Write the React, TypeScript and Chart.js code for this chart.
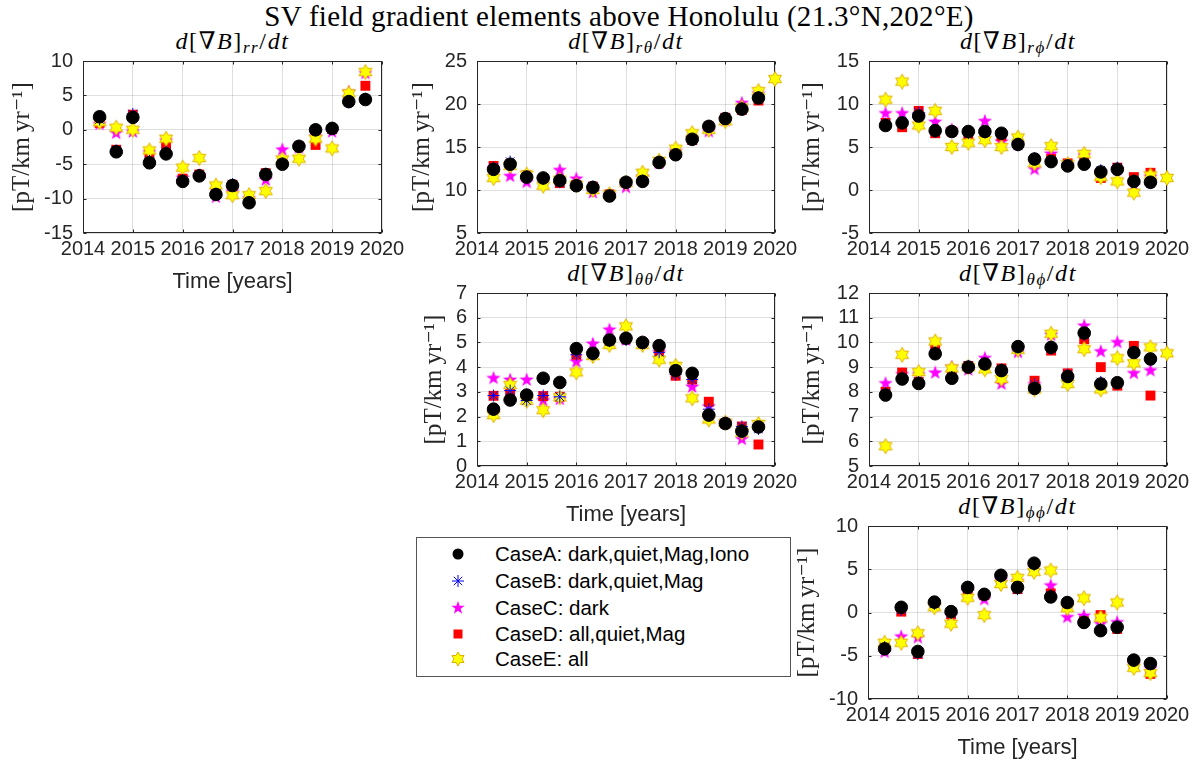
import React, { useEffect, useRef } from 'react';
import { Chart, registerables } from 'chart.js';
Chart.register(...registerables);

// ---------------- data ----------------
const times = [2014.333, 2014.667, 2015.0, 2015.333, 2015.667, 2016.0, 2016.333, 2016.667, 2017.0,
  2017.333, 2017.667, 2018.0, 2018.333, 2018.667, 2019.0, 2019.333, 2019.667, 2020.0];
const yearTicks = [2014, 2015, 2016, 2017, 2018, 2019, 2020];

const rrA = [1.9, -3.2, 1.8, -4.8, -3.5, -7.5, -6.7, -9.4, -8.1, -10.6, -6.5, -5.0, -2.4, 0.0, 0.2, 4.1, 4.4];
const rrB = [1.5, -3.0, 2.3, -4.5, -3.2, -7.3, -6.6, -9.3, -7.9, -10.5, -6.4, -4.9, -2.4, -0.1, 0.1, 4.0, 4.5];
const rrC = [0.8, -0.5, -0.3, -3.3, -1.6, -7.0, -6.6, -9.8, -9.0, -10.0, -7.3, -2.9, -2.6, -1.0, -0.3, 5.5, 8.2];
const rrD = [1.0, -2.9, 2.2, -3.6, -2.4, -7.1, -6.5, -9.2, -8.0, -10.3, -6.3, -4.6, -2.4, -2.2, 0.1, 4.2, 6.4];
const rrE = [1.1, 0.3, 0.0, -3.0, -1.3, -5.5, -4.1, -8.1, -9.5, -9.5, -8.9, -4.3, -4.2, -1.3, -2.7, 5.3, 8.4];

const rtA = [12.4, 13.0, 11.5, 11.4, 11.1, 10.5, 10.3, 9.3, 10.9, 11.0, 13.2, 14.1, 15.9, 17.4, 18.3, 19.4, 20.7];
const rtB = [12.6, 13.3, 11.6, 11.3, 10.9, 10.6, 10.4, 9.4, 10.8, 11.1, 13.3, 14.1, 15.8, 17.3, 18.4, 19.5, 20.8];
const rtC = [12.5, 11.6, 10.9, 11.2, 12.3, 11.3, 9.7, 9.4, 10.3, 11.5, 13.1, 14.5, 16.0, 16.8, 18.1, 20.1, 21.2];
const rtD = [12.8, 13.0, 11.7, 11.3, 10.8, 10.6, 10.4, 9.5, 10.9, 11.1, 13.2, 14.2, 15.8, 17.4, 18.4, 19.3, 20.4];
const rtE = [11.4, 12.8, 11.8, 10.5, 11.2, 10.6, 10.0, 9.5, 10.8, 12.0, 13.4, 14.8, 16.6, 17.0, 18.0, 19.6, 21.5, 22.9];

const rpA = [7.5, 7.8, 8.6, 6.9, 6.8, 6.8, 6.8, 6.6, 5.3, 3.6, 3.3, 2.8, 3.0, 2.1, 2.4, 1.0, 0.9];
const rpB = [7.7, 7.9, 9.0, 6.8, 6.8, 6.6, 6.7, 6.5, 5.2, 3.7, 3.4, 2.9, 3.1, 2.3, 2.6, 1.1, 0.8];
const rpC = [8.9, 8.9, 8.7, 7.9, 7.0, 6.5, 8.0, 5.6, 5.3, 2.4, 4.2, 2.9, 4.0, 2.0, 2.4, 0.5, 1.5];
const rpD = [7.8, 7.3, 9.2, 6.6, 6.8, 6.4, 6.6, 6.3, 5.4, 3.5, 3.6, 3.1, 3.2, 1.4, 2.6, 1.5, 2.0];
const rpE = [10.5, 12.6, 7.5, 9.2, 5.0, 5.5, 5.8, 5.0, 6.1, 3.1, 5.1, 3.0, 4.2, 1.5, 1.0, -0.3, 1.7, 1.4];

const ttA = [2.3, 2.67, 2.87, 3.55, 3.38, 4.75, 4.56, 5.1, 5.17, 5.0, 4.87, 3.86, 3.75, 2.06, 1.72, 1.41, 1.58];
const ttB = [2.85, 3.05, 2.65, 2.85, 2.8, 4.5, 4.5, 5.05, 5.1, 4.95, 4.6, 3.7, 3.5, 2.3, 1.75, 1.6, 1.5];
const ttC = [3.55, 3.48, 3.48, 2.65, 2.7, 4.22, 4.94, 5.51, 5.1, 5.0, 4.6, 3.75, 3.2, 2.4, 1.75, 1.08, 1.6];
const ttD = [2.84, 2.94, 2.7, 2.83, 2.8, 4.5, 4.55, 5.05, 5.15, 4.95, 4.6, 3.65, 3.5, 2.6, 1.72, 1.6, 0.87];
const ttE = [2.06, 3.28, 2.64, 2.26, 2.78, 3.79, 4.45, 4.9, 5.65, 4.9, 4.3, 4.05, 2.74, 1.88, 1.75, 1.35, 1.7];

const tpA = [7.87, 8.52, 8.34, 9.54, 8.55, 9.0, 9.13, 8.86, 9.83, 8.14, 9.8, 8.62, 10.38, 8.32, 8.37, 9.59, 9.33];
const tpB = [7.95, 8.6, 8.4, 9.6, 8.6, 9.05, 9.1, 8.9, 9.8, 8.3, 9.75, 8.7, 10.3, 8.4, 8.35, 9.6, 9.35];
const tpC = [8.34, 8.7, 8.7, 8.77, 9.0, 8.89, 9.36, 8.32, 9.6, 8.3, 10.3, 8.6, 10.67, 9.63, 10.0, 8.75, 8.86];
const tpD = [8.0, 8.78, 8.4, 9.7, 8.65, 9.05, 9.1, 8.95, 9.8, 8.45, 9.67, 8.75, 10.13, 9.0, 8.25, 9.86, 7.85];
const tpE = [5.8, 9.5, 8.8, 10.04, 8.95, 9.0, 8.91, 8.52, 9.7, 8.1, 10.35, 8.32, 9.73, 8.1, 9.36, 9.16, 9.8, 9.56];

const ppA = [-4.2, 0.6, -4.5, 1.2, 0.1, 2.9, 2.1, 4.3, 2.9, 5.7, 1.8, 1.15, -1.15, -2.1, -1.7, -5.5, -5.9];
const ppB = [-4.0, 0.3, -4.8, 1.0, -0.1, 2.8, 2.0, 4.1, 2.7, 5.5, 2.0, 1.1, -1.0, -1.9, -1.6, -5.6, -6.0];
const ppC = [-4.6, -2.8, -2.9, 0.8, -0.4, 2.4, 1.5, 3.7, 3.6, 5.2, 3.1, -0.55, -0.4, -1.35, -1.15, -6.0, -6.5];
const ppD = [-4.0, 0.1, -4.8, 1.0, -0.2, 2.6, 2.0, 3.9, 2.7, 5.3, 2.2, 1.0, -1.0, -0.3, -1.9, -6.0, -7.1];
const ppE = [-3.5, -3.5, -2.4, 0.6, -1.3, 1.7, -0.3, 3.3, 4.0, 4.7, 4.85, 0.5, 1.65, -0.6, 1.15, -6.4, -7.0];

const rrTicks = [-15, -10, -5, 0, 5, 10];
const rtTicks = [5, 10, 15, 20, 25];
const rpTicks = [-5, 0, 5, 10, 15];
const ttTicks = [0, 1, 2, 3, 4, 5, 6, 7];
const tpTicks = [5, 6, 7, 8, 9, 10, 11, 12];
const ppTicks = [-10, -5, 0, 5, 10];

const caseLabels = [
  'CaseA: dark,quiet,Mag,Iono',
  'CaseB: dark,quiet,Mag',
  'CaseC: dark',
  'CaseD: all,quiet,Mag',
  'CaseE: all',
];
const mainTitle = 'SV field gradient elements above Honolulu (21.3°N,202°E)';
const yLabel = '[pT/km\u2009yr\u207B\u00B9]';
const xLabel = 'Time [years]';

// ---------------- styling / layout ----------------
const SANS = '"Liberation Sans", Arial, Helvetica, sans-serif';
const SERIF = '"Liberation Serif", "DejaVu Serif", "Times New Roman", serif';
const AXC = '#262626';
const GRID = 'rgba(38,38,38,0.15)';
const YW = 82;
const PADT = 24;
const PADR = 32;
const XH = 66;
const TICK_FS = 20;
const YLAB_FS = 25;

type PanelCfg = {
  key: string; sub: string; L: number; T: number; R: number; B: number;
  ticks: number[]; xTitle: boolean; yOff: number;
  A: number[]; Bs: number[]; C: number[]; D: number[]; E: number[];
};

const panels: PanelCfg[] = [
  { key: 'rr', sub: 'rr', L: 83, T: 61, R: 382, B: 233, ticks: rrTicks, xTitle: true, yOff: 61, A: rrA, Bs: rrB, C: rrC, D: rrD, E: rrE },
  { key: 'rt', sub: 'rθ', L: 477, T: 61, R: 775, B: 233, ticks: rtTicks, xTitle: false, yOff: 55, A: rtA, Bs: rtB, C: rtC, D: rtD, E: rtE },
  { key: 'rp', sub: 'rϕ', L: 869, T: 61, R: 1167, B: 233, ticks: rpTicks, xTitle: false, yOff: 57, A: rpA, Bs: rpB, C: rpC, D: rpD, E: rpE },
  { key: 'tt', sub: 'θθ', L: 477, T: 293, R: 775, B: 466, ticks: ttTicks, xTitle: true, yOff: 43, A: ttA, Bs: ttB, C: ttC, D: ttD, E: ttE },
  { key: 'tp', sub: 'θϕ', L: 869, T: 293, R: 1167, B: 466, ticks: tpTicks, xTitle: false, yOff: 57, A: tpA, Bs: tpB, C: tpC, D: tpD, E: tpE },
  { key: 'pp', sub: 'ϕϕ', L: 868, T: 526, R: 1167, B: 699, ticks: ppTicks, xTitle: true, yOff: 61, A: ppA, Bs: ppB, C: ppC, D: ppD, E: ppE },
];

function starCanvas(n: number, outer: number, inner: number, fill: string, stroke: string | null) {
  const size = Math.ceil(outer * 2 + 3);
  const c = document.createElement('canvas');
  c.width = size; c.height = size;
  const ctx = c.getContext('2d')!;
  ctx.translate(size / 2, size / 2);
  ctx.beginPath();
  for (let i = 0; i < 2 * n; i++) {
    const r = i % 2 === 0 ? outer : inner;
    const a = -Math.PI / 2 + (i * Math.PI) / n;
    ctx.lineTo(r * Math.cos(a), r * Math.sin(a));
  }
  ctx.closePath();
  ctx.fillStyle = fill;
  ctx.fill();
  if (stroke) { ctx.strokeStyle = stroke; ctx.lineWidth = 1; ctx.stroke(); }
  return c;
}

const toPts = (vals: number[]) => vals.map((v, i) => ({ x: times[i], y: v }));

const boxPlugin = {
  id: 'matlabBox',
  beforeDatasetsDraw(chart: any) {
    const { ctx, chartArea: a, scales } = chart;
    ctx.save();
    ctx.strokeStyle = AXC;
    ctx.lineWidth = 1;
    const l = Math.round(a.left) + 0.5, r = Math.round(a.right) - 0.5;
    const t = Math.round(a.top) + 0.5, b = Math.round(a.bottom) - 0.5;
    ctx.strokeRect(l, t, r - l, b - t);
    ctx.beginPath();
    scales.x.ticks.forEach((tk: any) => {
      const px = Math.round(scales.x.getPixelForValue(tk.value)) + 0.5;
      ctx.moveTo(px, b); ctx.lineTo(px, b - 3);
      ctx.moveTo(px, t); ctx.lineTo(px, t + 3);
    });
    scales.y.ticks.forEach((tk: any) => {
      const py = Math.round(scales.y.getPixelForValue(tk.value)) + 0.5;
      ctx.moveTo(l, py); ctx.lineTo(l + 3, py);
      ctx.moveTo(r, py); ctx.lineTo(r - 3, py);
    });
    ctx.stroke();
    ctx.restore();
  },
};

function Panel({ p }: { p: PanelCfg }) {
  const ref = useRef<HTMLCanvasElement>(null);
  const w = YW + (p.R - p.L) + PADR;
  const h = PADT + (p.B - p.T) + XH;
  useEffect(() => {
    const pent = starCanvas(5, 7.5, 3.0, '#ff00ff', null);
    const hex = starCanvas(6, 7.5, 4.3, '#ffff00', '#e0b000');
    const yFontLH = YLAB_FS * 1.2;
    const chart = new Chart(ref.current!, {
      type: 'scatter',
      data: {
        datasets: [
          { label: caseLabels[0], data: toPts(p.A), order: 0, pointStyle: 'circle', pointRadius: 6.3, backgroundColor: '#000', borderColor: '#000', borderWidth: 1, clip: false } as any,
          { label: caseLabels[1], data: toPts(p.Bs), order: 1, pointStyle: 'star', pointRadius: 6, backgroundColor: '#0000ff', borderColor: '#0000ff', borderWidth: 1, clip: false },
          { label: caseLabels[2], data: toPts(p.C), order: 4, pointStyle: pent, pointRadius: 7, backgroundColor: '#ff00ff', borderColor: '#ff00ff', clip: false },
          { label: caseLabels[3], data: toPts(p.D), order: 3, pointStyle: 'rect', pointRadius: 7, backgroundColor: '#ff0000', borderColor: '#ff0000', borderWidth: 0, clip: false },
          { label: caseLabels[4], data: toPts(p.E), order: 2, pointStyle: hex, pointRadius: 7, backgroundColor: '#ffff00', borderColor: '#e0b000', clip: false },
        ],
      },
      options: {
        animation: false,
        responsive: false,
        maintainAspectRatio: false,
        events: [],
        layout: { padding: { top: PADT, right: PADR, left: 0, bottom: 0 } },
        plugins: { legend: { display: false }, tooltip: { enabled: false }, title: { display: false } },
        scales: {
          x: {
            type: 'linear', position: 'bottom', min: yearTicks[0], max: yearTicks[yearTicks.length - 1],
            afterBuildTicks: (s: any) => { s.ticks = yearTicks.map((v) => ({ value: v })); },
            ticks: { padding: 4, color: AXC, font: { family: SANS, size: TICK_FS }, maxRotation: 0, autoSkip: false, callback: (v: any) => String(v) },
            grid: { color: GRID, drawTicks: false, lineWidth: 1 },
            border: { display: false },
            title: { display: p.xTitle, text: xLabel, color: AXC, font: { family: SANS, size: 22 }, padding: { top: 0, bottom: 4 } },
            afterFit: (s: any) => { s.height = XH; },
          },
          y: {
            type: 'linear', min: p.ticks[0], max: p.ticks[p.ticks.length - 1],
            afterBuildTicks: (s: any) => { s.ticks = p.ticks.map((v) => ({ value: v })); },
            ticks: { padding: 10, color: AXC, font: { family: SANS, size: TICK_FS }, autoSkip: false, callback: (v: any) => String(v) },
            grid: { color: GRID, drawTicks: false, lineWidth: 1 },
            border: { display: false },
            title: { display: true, text: yLabel, color: AXC, font: { family: SERIF, size: YLAB_FS }, padding: { top: YW - p.yOff - yFontLH / 2, bottom: 0 } },
            afterFit: (s: any) => { s.width = YW; },
          },
        },
      } as any,
      plugins: [boxPlugin],
    });
    return () => chart.destroy();
  }, [p]);
  return (
    <canvas ref={ref} width={w} height={h}
      style={{ position: 'absolute', left: p.L - YW, top: p.T - PADT, width: w, height: h }} />
  );
}

function PanelTitle({ p }: { p: PanelCfg }) {
  return (
    <div style={{ position: 'absolute', left: p.L - 50, width: p.R - p.L + 100, top: p.T - 36, height: 32,
      textAlign: 'center', fontFamily: SERIF, fontSize: 24, lineHeight: '32px', whiteSpace: 'nowrap', color: '#000', letterSpacing: '1.6px', fontWeight: 'normal' }}>
      <i>d</i>[∇<i>B</i>]<i style={{ fontSize: 17, position: 'relative', top: 4 }}>{p.sub}</i>/<i>dt</i>
    </div>
  );
}

function LegendMarker({ i }: { i: number }) {
  const s = 18, c = 9;
  const star = (n: number, ro: number, ri: number) => {
    const pts: string[] = [];
    for (let k = 0; k < 2 * n; k++) {
      const r = k % 2 === 0 ? ro : ri;
      const a = -Math.PI / 2 + (k * Math.PI) / n;
      pts.push(`${(c + r * Math.cos(a)).toFixed(2)},${(c + r * Math.sin(a)).toFixed(2)}`);
    }
    return pts.join(' ');
  };
  let el: any = null;
  if (i === 0) el = <circle cx={c} cy={c} r={5.5} fill="#000" />;
  if (i === 1) el = (
    <g stroke="#0000ff" strokeWidth={1}>
      <line x1={c} y1={c - 6} x2={c} y2={c + 6} />
      <line x1={c - 6} y1={c} x2={c + 6} y2={c} />
      <line x1={c - 4.2} y1={c - 4.2} x2={c + 4.2} y2={c + 4.2} />
      <line x1={c - 4.2} y1={c + 4.2} x2={c + 4.2} y2={c - 4.2} />
    </g>
  );
  if (i === 2) el = <polygon points={star(5, 7, 2.8)} fill="#ff00ff" />;
  if (i === 3) el = <rect x={c - 4.5} y={c - 4.5} width={9} height={9} fill="#ff0000" />;
  if (i === 4) el = <polygon points={star(6, 7, 4)} fill="#ffff00" stroke="#e0b000" strokeWidth={1} />;
  return <svg width={s} height={s} style={{ position: 'absolute', left: 458 - c, top: -c }}>{el}</svg>;
}

export default function App() {
  const rowY = [554, 581, 608, 634, 659];
  return (
    <div style={{ position: 'absolute', left: 0, top: 0, width: 1193, height: 766, background: '#fff', overflow: 'hidden' }}>
      <div style={{ position: 'absolute', left: 119, width: 1000, top: -1, textAlign: 'center', fontFamily: SERIF,
        fontSize: 29, lineHeight: '34px', letterSpacing: '0.3px', whiteSpace: 'nowrap', color: '#000' }}>{mainTitle}</div>
      {panels.map((p) => <PanelTitle key={'t' + p.key} p={p} />)}
      {panels.map((p) => <Panel key={p.key} p={p} />)}
      <div style={{ position: 'absolute', left: 416, top: 537, width: 373, height: 138, border: '1px solid #555', background: '#fff' }} />
      {caseLabels.map((lab, i) => (
        <div key={lab} style={{ position: 'absolute', left: 0, top: rowY[i], height: 0 }}>
          <LegendMarker i={i} />
          <div style={{ position: 'absolute', left: 495, top: -12, fontFamily: SANS, fontSize: 20.5, lineHeight: '24px', whiteSpace: 'nowrap', color: '#000' }}>{lab}</div>
        </div>
      ))}
    </div>
  );
}
